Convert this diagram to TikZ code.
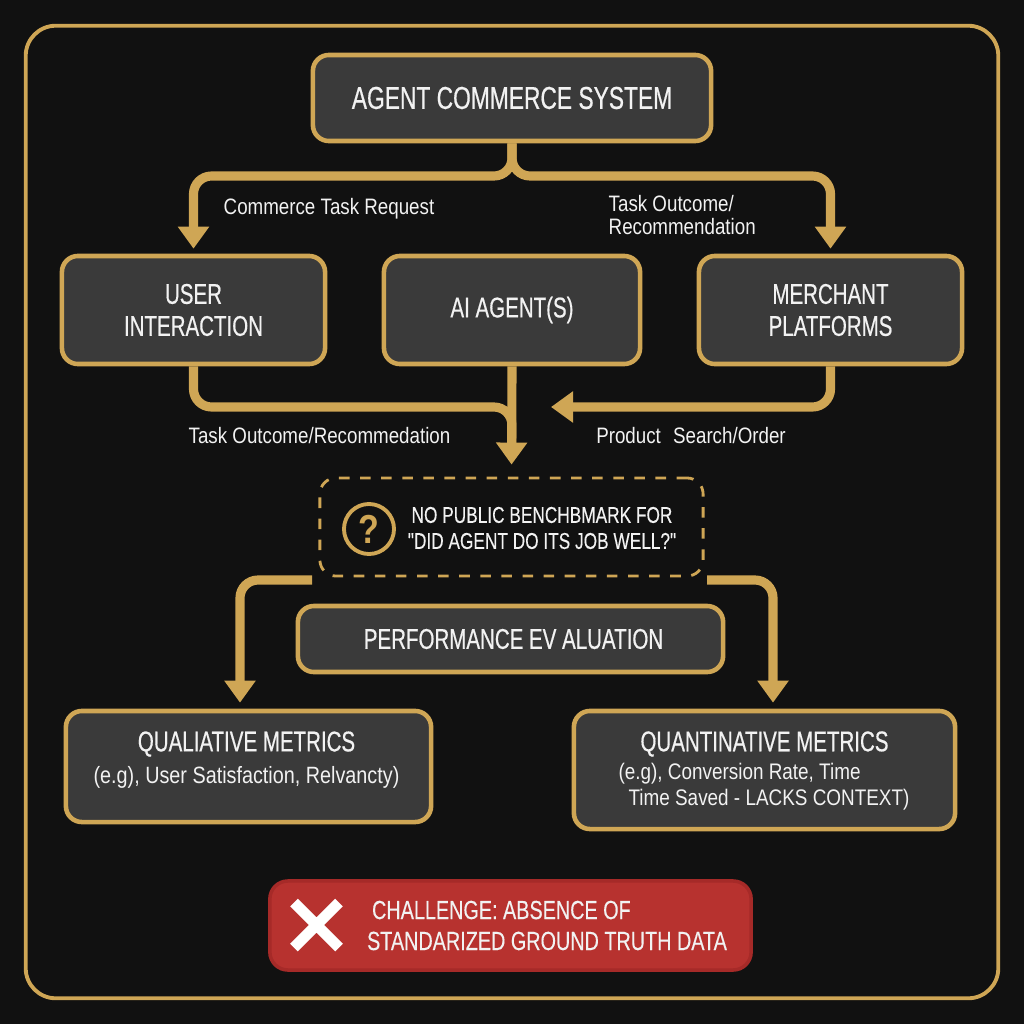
\documentclass[tikz,border=0pt]{standalone}
\usepackage{fontspec}
\setmainfont{Liberation Sans}[FakeStretch=0.84]
\newfontfamily\headfont{Liberation Sans}[FakeStretch=0.72,FakeBold=0.5]
\newfontfamily\midfont{Liberation Sans}[FakeStretch=0.755,FakeBold=0.2]
\usetikzlibrary{arrows.meta, positioning}
\definecolor{bgdark}{HTML}{111111}
\definecolor{gold}{HTML}{CFA655}
\definecolor{boxgray}{HTML}{3A3A3A}
\definecolor{alertred}{HTML}{B7322F}
\definecolor{alertedge}{HTML}{A62A28}
\definecolor{softwhite}{HTML}{F2F2F2}
\tikzset{
  x=0.01cm,
  y=-0.01cm,
  block/.style={draw=gold, line width=1.3pt, fill=boxgray, rounded corners=0.16cm, align=center,
    text=softwhite, inner sep=0pt},
  blocktext/.style={font=\headfont\fontsize{8.1}{9.1}\selectfont},
  flowlabel/.style={text=softwhite, align=left, inner sep=0pt, font=\fontsize{6.35}{6.8}\selectfont},
  flow/.style={draw=gold, line width=2.6pt, rounded corners=0.18cm,
    -{Triangle[width=0.3cm,length=0.22cm]}},
  flowplain/.style={draw=gold, line width=2.6pt, rounded corners=0.18cm},
}
\begin{document}
\begin{tikzpicture}
		\useasboundingbox (0,0) rectangle (1024,1024);
		\fill[bgdark] (0,0) rectangle (1024,1024);
		\node[draw=gold, line width=1.1pt, rounded corners=0.3cm, minimum width=9.72cm, minimum height=9.72cm] (frame) at (512,512) {};

		% boxes
		\node[block, minimum width=3.98cm, minimum height=0.86cm, font=\headfont\fontsize{9}{10}\selectfont] (system) at (512,98) {AGENT COMMERCE SYSTEM};
		\node[block, blocktext, minimum width=2.63cm, minimum height=1.08cm] (user) at (193.5,310) {USER\\INTERACTION};
		\node[block, blocktext, minimum width=2.56cm, minimum height=1.08cm] (agent) at (512,310) {AI AGENT(S)};
		\node[block, blocktext, minimum width=2.63cm, minimum height=1.08cm] (merchant) at (830.5,310) {MERCHANT\\PLATFORMS};
		\node[draw=gold, line width=0.8pt, dashed, rounded corners=0.16cm, minimum width=3.83cm, minimum height=0.98cm] (gap) at (511.5,527) {};
		\node[draw=gold, line width=1.1pt, circle, minimum size=0.5cm, inner sep=0pt, text=gold, font=\fontsize{11.5}{12}\bfseries\selectfont] (query) at (369,529) {?};
		\node[text=softwhite, align=center, inner sep=0pt, font=\midfont\fontsize{6.5}{7.4}\selectfont] (gaptext) at (542,528) {NO PUBLIC BENCHBMARK FOR\\"DID AGENT DO ITS JOB WELL?"};
		\node[block, blocktext, minimum width=4.25cm, minimum height=0.66cm] (perf) at (510.5,639) {\hspace*{0.06cm}PERFORMANCE EV ALUATION};
		\node[block, minimum width=3.65cm, minimum height=1.11cm] (qual) at (248.5,766.5) {};
		\node[block, minimum width=3.81cm, minimum height=1.18cm] (quant) at (764.5,770) {};
		\node[draw=alertedge, line width=1pt, fill=alertred, rounded corners=0.18cm, minimum width=4.81cm, minimum height=0.89cm] (challenge) at (510.5,925.5) {};

		% box texts
		\node[text=softwhite, align=center, inner sep=0pt, font=\headfont\fontsize{8.1}{9.2}\selectfont] (qualtext) at (246.5,760) {QUALIATIVE METRICS\\\normalfont\fontsize{6.7}{9.2}\selectfont(e.g), User Satisfaction, Relvancty)};
		\node[text=softwhite, align=left, inner sep=0pt, font=\headfont\fontsize{8.1}{9}\selectfont] (quanthead) at (764.5,744) {QUANTINATIVE METRICS};
		\node[text=softwhite, align=left, inner sep=0pt, font=\fontsize{6.4}{7.4}\selectfont] (quanttext) at (764,787) {(e.g), Conversion Rate, Time\\\hspace{0.1cm}Time Saved - LACKS CONTEXT)};
		\node[text=softwhite, align=left, inner sep=0pt, font=\midfont\fontsize{7.46}{8.8}\selectfont] (alerttext) at (547,925.5) {\hspace{0.05cm}CHALLENGE: ABSENCE OF\\STANDARIZED GROUND TRUTH DATA};
		\draw[white, line width=3.1pt] (294,902.5) -- (339,947.5) (339,902.5) -- (294,947.5);

		% flow labels
		\node[flowlabel] (requestlabel) at (329,209) {Commerce Task Request};
		\node[flowlabel, anchor=west] (outcomelabel) at (608,215) {Task Outcome/\\Recommendation};
		\node[flowlabel] (resultlabel) at (319.5,436) {Task Outcome/Recommedation};
		\node[flowlabel] (searchlabel) at (691,436) {Product\hspace{0.07cm} Search/Order};

		% connectors
		\coordinate (split) at (512,176);
		\coordinate (merge) at (512,407);
		\coordinate (searchend) at (551,407);
		\coordinate (gapleft) at (312,580);
		\coordinate (gapright) at (707,580);
		\draw[flow, shorten >=0.05cm] (system.south) |- (split -| user.north) -- (user.north);
		\draw[flow, shorten >=0.05cm] (system.south) |- (split -| merchant.north) -- (merchant.north);
		\draw[flowplain, shorten >=0.3cm] (user.south) |- (merge) -- (gap.north);
		\draw[flow, shorten >=0.12cm] (agent.south) -- (gap.north);
		\draw[flow] (merchant.south) |- (searchend);
		\draw[flow, shorten >=0.06cm] (gapleft) -| ([xshift=-0.085cm]qual.north);
		\draw[flow, shorten >=0.06cm] (gapright) -| ([xshift=0.085cm]quant.north);
	\end{tikzpicture}
\end{document}
